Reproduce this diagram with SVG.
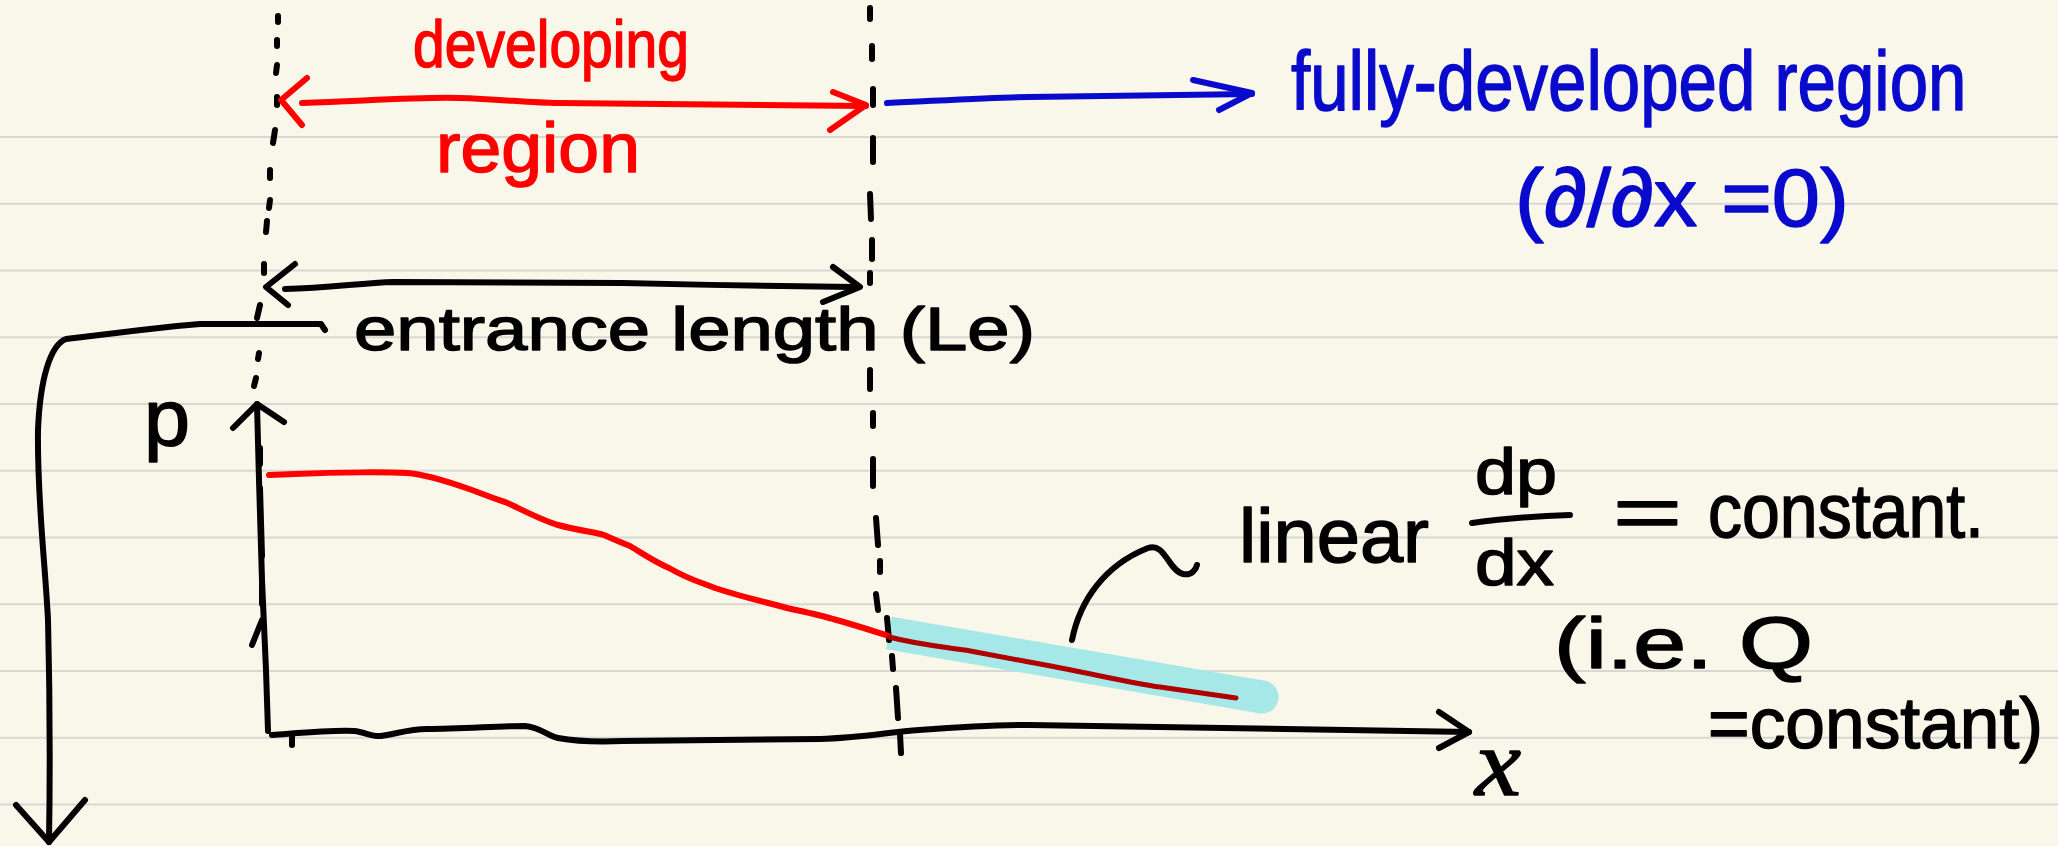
<svg xmlns="http://www.w3.org/2000/svg" width="2058" height="846" viewBox="0 0 2058 846">
<style>
.rule{stroke:#d7d7d3;stroke-width:2}
.ink{fill:none;stroke:#000;stroke-width:6;stroke-linecap:round;stroke-linejoin:round}
.dash{fill:none;stroke:#000;stroke-width:6;stroke-linecap:round}
.red{fill:none;stroke:#ff0000;stroke-width:6;stroke-linecap:round;stroke-linejoin:round}
.blue{fill:none;stroke:#0a0acd;stroke-width:6;stroke-linecap:round;stroke-linejoin:round}
.t{font-family:"Liberation Sans",Arial,sans-serif;stroke-width:1.5;stroke-linejoin:round}
.tr{fill:#ff0000;stroke:#ff0000}
.tb{fill:#0a0acd;stroke:#0a0acd}
.tk{fill:#000;stroke:#000}
</style>
<rect width="2058" height="846" fill="#f9f7ea"/>
<g id="rules">
<line class="rule" x1="0" y1="137" x2="2058" y2="137"/>
<line class="rule" x1="0" y1="203.75" x2="2058" y2="203.75"/>
<line class="rule" x1="0" y1="270.5" x2="2058" y2="270.5"/>
<line class="rule" x1="0" y1="337.25" x2="2058" y2="337.25"/>
<line class="rule" x1="0" y1="404" x2="2058" y2="404"/>
<line class="rule" x1="0" y1="470.75" x2="2058" y2="470.75"/>
<line class="rule" x1="0" y1="537.5" x2="2058" y2="537.5"/>
<line class="rule" x1="0" y1="604.25" x2="2058" y2="604.25"/>
<line class="rule" x1="0" y1="671" x2="2058" y2="671"/>
<line class="rule" x1="0" y1="737.75" x2="2058" y2="737.75"/>
<line class="rule" x1="0" y1="804.5" x2="2058" y2="804.5"/>
</g>
<g id="highlight">
<path d="M889,633 L1262,697" fill="none" stroke="#a6e7e8" stroke-width="33" stroke-linecap="butt"/>
<circle cx="1262" cy="697" r="16.5" fill="#a6e7e8"/>
</g>
<g id="inlet-boundary">
<path class="dash" d="M278,16 L278,22 M277,40 L277,46 M277,65 L276,73 M277,97 L277,105 M275,130 L273,143 M270,170 L270,178 M270,200 L269,208 M267,221 L266,232 M264,264 L264,273 M260,305 L257,318 M259,353 L258,359 M256,378 L254,386"/>
<path class="dash" d="M260,448 L260,464 M260,488 L262,556 M262,583 L262,604 M262,620 L252,645" stroke-width="8"/>
</g>
<g id="developed-boundary">
<path class="dash" d="M870,8 L870,19 M872,46 L872,59 M873,89 L873,105 M873,138 L873,162 M870,194 L871,219 M872,240 L872,259 M870,273 L870,283 M870,370 L870,389 M873,413 L873,426 M873,459 L873,486 M876,518 L878,545 M880,561 L880,572 M876,594 L878,610 M887,618 L889,640 M892,656 L893,669 M896,688 L898,718 M900,734 L901,753"/>
</g>
<g id="axes">
<path class="ink" d="M268,731 L266,670 L262,580 L259,480 L257,404"/>
<path class="ink" d="M233,428 L257,404 L284,422"/>
<path class="ink" d="M272,735 C300,733 330,730 354,731 C365,732 372,737 381,736 C395,734 410,729 427,729 C460,729 500,726 525,726 C540,727 548,736 558,738 C580,742 600,742 623,741 L820,739 C860,738 890,732 919,730 C960,727 1000,725 1029,725 L1469,732"/>
<path class="ink" d="M1439,712 L1469,732 L1439,748"/>
<path class="ink" d="M292,734 L292,745"/>
</g>
<g id="pressure-curve">
<path class="red" d="M269,475 L295,474 C340,472 390,472 407,473 C425,474 455,484 472,490 C488,496 498,500 505,502 C515,506 540,520 558,525 C580,531 595,532 604,535 C615,540 625,544 630,546 C645,555 655,562 669,568 C690,580 700,582 715,588 C745,598 770,603 787,608 C805,612 820,615 833,619 C855,625 870,630 889,636" stroke-width="4"/>
<path d="M889,637 C920,645 945,647 965,650 L1029,662 C1090,673 1130,683 1160,687 L1236,698" fill="none" stroke="#b00000" stroke-width="5" stroke-linecap="round" stroke-linejoin="round"/>
</g>
<g id="connectors">
<path class="red" d="M302,103 C380,100 420,97 459,98 C500,99 530,103 558,103 L866,106"/>
<path class="red" d="M307,78 L281,100 L302,125"/>
<path class="red" d="M833,92 L866,105 L830,130"/>
<path class="blue" d="M887,103 C950,100 1000,97 1029,97 L1252,94"/>
<path class="blue" d="M1193,80 L1252,93 L1219,110"/>
<path class="ink" d="M285,289 C330,288 360,283 394,282 L623,283 C700,285 780,286 855,287"/>
<path class="ink" d="M295,264 L266,287 L288,305"/>
<path class="ink" d="M833,267 L860,287 L823,302"/>
<path class="ink" d="M325,330 L321,324 L200,324 L177,326 C140,330 100,335 66,339 C50,345 40,380 38,430 C37,500 45,560 48,620 C50,700 50,780 49,842"/>
<path class="ink" d="M16,805 L49,842 L85,800"/>
<path class="ink" d="M1072,640 C1080,600 1105,565 1148,548 C1165,542 1168,570 1183,574 C1192,576 1196,569 1197,565"/>
<path class="ink" d="M1472,523 C1500,519 1540,516 1570,515"/>
</g>
<g id="label-developing">
<text class="t tr" x="413" y="67" font-size="66" textLength="276" lengthAdjust="spacingAndGlyphs">developing</text>
<text class="t tr" x="436" y="172" font-size="70" textLength="204" lengthAdjust="spacingAndGlyphs">region</text>
</g>
<g id="label-fully-developed">
<text class="t tb" transform="translate(1291,110) scale(0.822,1)" x="0" y="0" font-size="84">fully-developed region</text>
<text class="t tb" x="1515" y="226" font-size="82" textLength="334" lengthAdjust="spacingAndGlyphs">(∂/∂x =0)</text>
</g>
<g id="label-entrance">
<text class="t tk" x="354" y="350" font-size="62" textLength="681" lengthAdjust="spacingAndGlyphs">entrance length (Le)</text>
</g>
<g id="label-p">
<text class="t tk" x="144" y="445" font-size="80" textLength="46" lengthAdjust="spacingAndGlyphs">p</text>
</g>
<g id="label-x">
<text x="1475" y="795" font-size="95" font-style="italic" font-family="'Liberation Serif',serif" fill="#000" stroke="#000" stroke-width="1.5" textLength="46" lengthAdjust="spacingAndGlyphs">x</text>
</g>
<g id="label-linear">
<text class="t tk" x="1239" y="562" font-size="76" textLength="190" lengthAdjust="spacingAndGlyphs">linear</text>
<text class="t tk" x="1475" y="494" font-size="64" textLength="82" lengthAdjust="spacingAndGlyphs">dp</text>
<text class="t tk" x="1475" y="585" font-size="64" textLength="79" lengthAdjust="spacingAndGlyphs">dx</text>
<text class="t tk" x="1613" y="537" font-size="72" textLength="69" lengthAdjust="spacingAndGlyphs">=</text>
<text class="t tk" x="1708" y="537" font-size="76" textLength="276" lengthAdjust="spacingAndGlyphs">constant.</text>
<text class="t tk" x="1554" y="668" font-size="72" textLength="259" lengthAdjust="spacingAndGlyphs">(i.e. Q</text>
<text class="t tk" x="1708" y="748" font-size="72" textLength="335" lengthAdjust="spacingAndGlyphs">=constant)</text>
</g>
</svg>
